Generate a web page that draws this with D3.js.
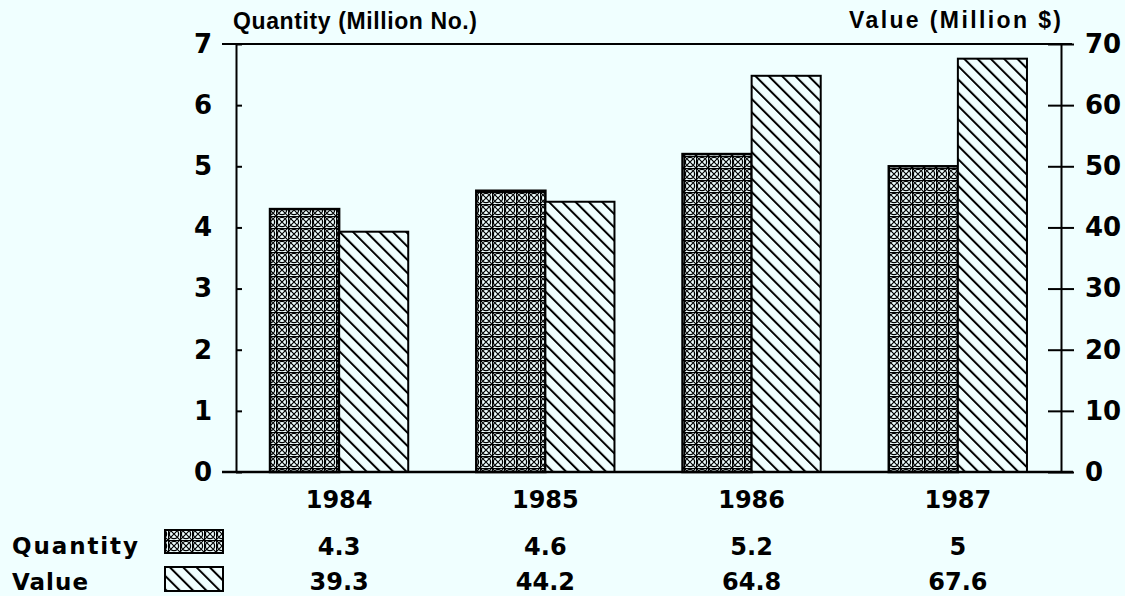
<!DOCTYPE html>
<html>
<head>
<meta charset="utf-8">
<script src="https://cdn.jsdelivr.net/npm/d3@7"></script>
<style>
  body { margin: 0; background: #f0ffff; }
  svg { display: block; }
  text { font-family: "DejaVu Sans", sans-serif; font-weight: bold; fill: #000; }
  text.title { font-family: "Liberation Sans", Arial, sans-serif; }
</style>
</head>
<body>
<script>
const years = ["1984", "1985", "1986", "1987"];
const quantity = [4.3, 4.6, 5.2, 5];
const value = [39.3, 44.2, 64.8, 67.6];
const quantityLabels = ["4.3", "4.6", "5.2", "5"];
const valueLabels = ["39.3", "44.2", "64.8", "67.6"];
const leftTicks = [0, 1, 2, 3, 4, 5, 6, 7];
const rightTicks = [0, 10, 20, 30, 40, 50, 60, 70];

const width = 1125, height = 596;
const bg = "#f0ffff";
const margin = {top: 44, right: 64, bottom: 124, left: 236};

const svg = d3.select("body").append("svg")
  .attr("width", width)
  .attr("height", height);

svg.append("rect").attr("width", width).attr("height", height).attr("fill", bg);

// patterns
const defs = svg.append("defs");
const pq = defs.append("pattern")
  .attr("id", "pq")
  .attr("patternUnits", "userSpaceOnUse")
  .attr("width", 12).attr("height", 12);
pq.append("rect").attr("width", 12).attr("height", 12).attr("fill", bg);
pq.append("path")
  .attr("d", "M0,0.5H12M0.5,0V12M0,0L12,12M12,0L0,12")
  .attr("stroke", "#000").attr("stroke-width", 1.2).attr("fill", "none");
pq.append("circle").attr("cx", 6).attr("cy", 6).attr("r", 4.6)
  .attr("stroke", "#000").attr("stroke-width", 1.3).attr("fill", "none");

const pv = defs.append("pattern")
  .attr("id", "pv")
  .attr("patternUnits", "userSpaceOnUse")
  .attr("width", 9.4).attr("height", 10)
  .attr("patternTransform", "rotate(-45)");
pv.append("rect").attr("width", 9.4).attr("height", 10).attr("fill", bg);
pv.append("line").attr("x1", 1).attr("x2", 1).attr("y1", 0).attr("y2", 10)
  .attr("stroke", "#000").attr("stroke-width", 2);

const x = d3.scaleBand()
  .domain(years)
  .range([margin.left, width - margin.right])
  .paddingInner(0.33)
  .paddingOuter(0.165);

const x1 = d3.scaleBand()
  .domain(["Quantity", "Value"])
  .range([0, x.bandwidth()]);

const yL = d3.scaleLinear().domain([0, 7]).range([height - margin.bottom, margin.top]);
const yR = d3.scaleLinear().domain([0, 70]).range([height - margin.bottom, margin.top]);

const x0 = margin.left, xr = width - margin.right;

// bars
const g = svg.append("g");
years.forEach((yr, i) => {
  g.append("rect")
    .attr("x", x(yr) + x1("Quantity"))
    .attr("y", yL(quantity[i]))
    .attr("width", x1.bandwidth())
    .attr("height", yL(0) - yL(quantity[i]))
    .attr("fill", "url(#pq)")
    .attr("stroke", "#000").attr("stroke-width", 2.5);
  g.append("rect")
    .attr("x", x(yr) + x1("Value"))
    .attr("y", yR(value[i]))
    .attr("width", x1.bandwidth())
    .attr("height", yR(0) - yR(value[i]))
    .attr("fill", "url(#pv)")
    .attr("stroke", "#000").attr("stroke-width", 2);
});

// axes
const axL = svg.append("g")
  .attr("transform", `translate(${x0},0)`)
  .call(d3.axisLeft(yL).tickValues(leftTicks).tickFormat(d3.format("d"))
    .tickSizeInner(14).tickSizeOuter(0).tickPadding(10));
axL.select(".domain").attr("stroke", "#000").attr("stroke-width", 2);
axL.selectAll(".tick line").attr("x2", 6).attr("stroke", "#000").attr("stroke-width", 2);
axL.selectAll(".tick text").style("font-size", "26px").style("font-family", "DejaVu Sans").style("font-weight", "bold");

const axR = svg.append("g")
  .attr("transform", `translate(${xr},0)`)
  .call(d3.axisRight(yR).tickValues(rightTicks).tickFormat(d3.format("d"))
    .tickSizeInner(13).tickSizeOuter(0).tickPadding(11));
axR.select(".domain").attr("stroke", "#000").attr("stroke-width", 2);
axR.selectAll(".tick line").attr("x1", -13).attr("stroke", "#000").attr("stroke-width", 2);
axR.selectAll(".tick text").style("font-size", "26px").style("font-family", "DejaVu Sans").style("font-weight", "bold");

// frame top and baseline
svg.append("line").attr("x1", x0 - 14).attr("x2", xr + 11)
  .attr("y1", yL(7)).attr("y2", yL(7)).attr("stroke", "#000").attr("stroke-width", 2);
svg.append("line").attr("x1", x0 - 14).attr("x2", xr + 12)
  .attr("y1", yL(0)).attr("y2", yL(0)).attr("stroke", "#000").attr("stroke-width", 2.5);

// titles
svg.append("text").attr("class", "title").attr("x", 233).attr("y", 29)
  .attr("font-size", 23).attr("textLength", 244).text("Quantity (Million No.)");
svg.append("text").attr("class", "title").attr("x", 1061).attr("y", 28).attr("text-anchor", "end")
  .attr("font-size", 23).attr("textLength", 212).text("Value (Million $)");

// year labels
svg.selectAll(".year").data(years).enter().append("text")
  .attr("class", "year")
  .attr("x", d => x(d) + x.bandwidth() / 2)
  .attr("y", 508)
  .attr("text-anchor", "middle")
  .attr("font-size", 24)
  .text(d => d);

// data table
svg.selectAll(".qv").data(quantityLabels).enter().append("text")
  .attr("x", (d, i) => x(years[i]) + x.bandwidth() / 2)
  .attr("y", 555)
  .attr("text-anchor", "middle")
  .attr("font-size", 24)
  .text(d => d);
svg.selectAll(".vv").data(valueLabels).enter().append("text")
  .attr("x", (d, i) => x(years[i]) + x.bandwidth() / 2)
  .attr("y", 590)
  .attr("text-anchor", "middle")
  .attr("font-size", 24)
  .text(d => d);

svg.append("text").attr("x", 12).attr("y", 554).attr("font-size", 23)
  .attr("textLength", 126).text("Quantity");
svg.append("text").attr("x", 12).attr("y", 590).attr("font-size", 23)
  .attr("textLength", 76).text("Value");

// legend swatches
svg.append("rect").attr("x", 165).attr("y", 530).attr("width", 58).attr("height", 23)
  .attr("fill", "url(#pq)").attr("stroke", "#000").attr("stroke-width", 2);
svg.append("rect").attr("x", 165).attr("y", 567).attr("width", 58).attr("height", 24)
  .attr("fill", "url(#pv)").attr("stroke", "#000").attr("stroke-width", 2);
</script>
</body>
</html>
